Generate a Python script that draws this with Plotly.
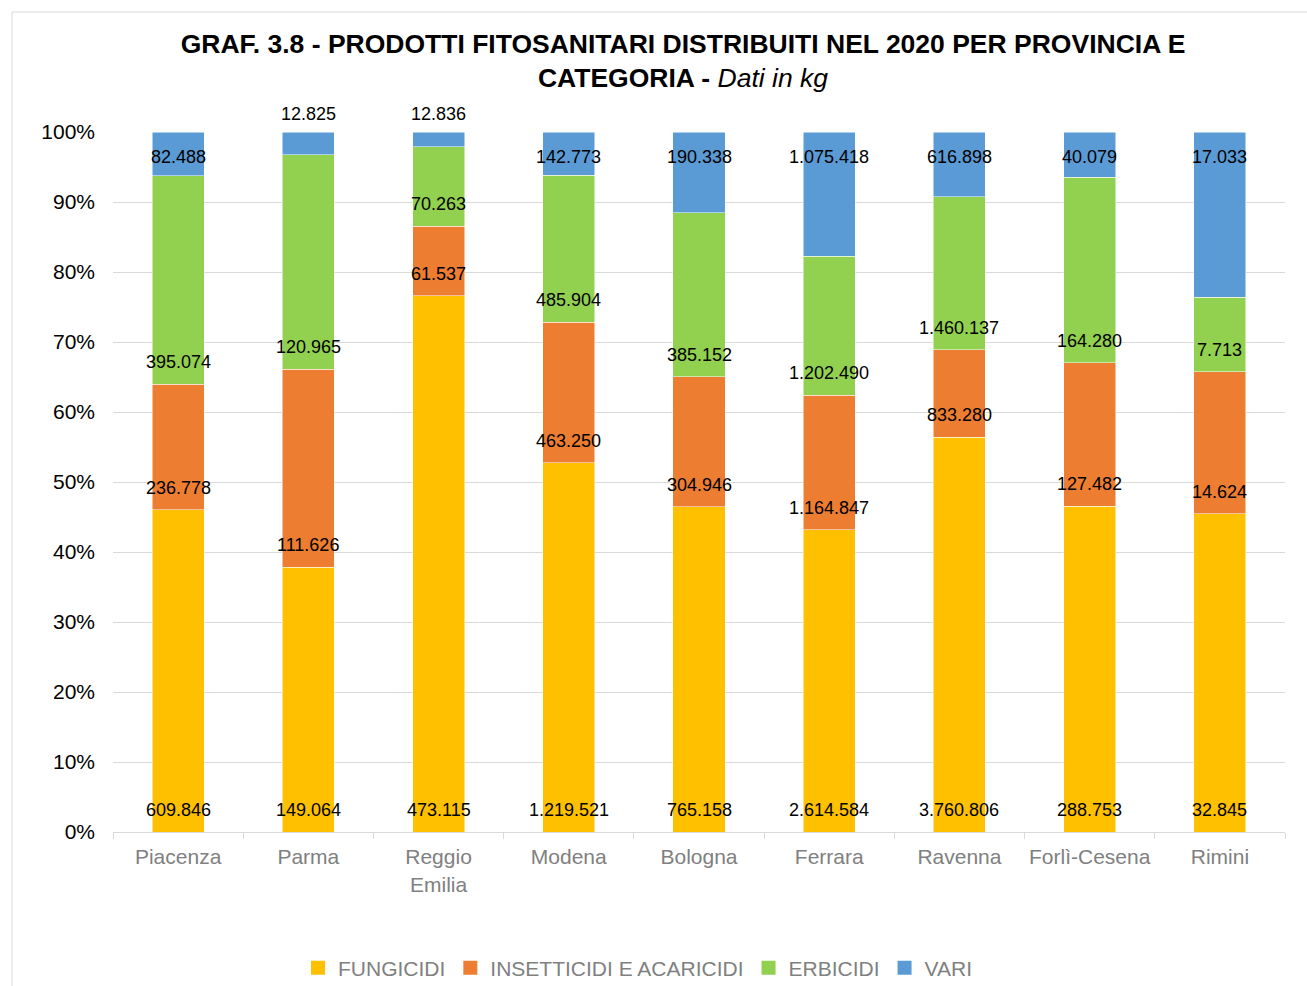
import numpy as np
import plotly.graph_objects as go

provinces = ["Piacenza", "Parma", "Reggio Emilia", "Modena", "Bologna",
             "Ferrara", "Ravenna", "Forlì-Cesena", "Rimini"]
fungicidi = [609846, 149064, 473115, 1219521, 765158, 2614584, 3760806, 288753, 32845]
insetticidi = [236778, 111626, 61537, 463250, 304946, 1164847, 833280, 127482, 14624]
erbicidi = [395074, 120965, 70263, 485904, 385152, 1202490, 1460137, 164280, 7713]
vari = [82488, 12825, 12836, 142773, 190338, 1075418, 616898, 40079, 17033]

series = [
    ("FUNGICIDI", fungicidi, "#FFC000"),
    ("INSETTICIDI E ACARICIDI", insetticidi, "#ED7D31"),
    ("ERBICIDI", erbicidi, "#92D050"),
    ("VARI", vari, "#5B9BD5"),
]

def fmt(v):
    return f"{v:,}".replace(",", ".")

W, H = 1307, 986
L, R, T, B = 113, 22, 132, 154
pw = W - L - R
ph = H - T - B
FONT = "Liberation Sans, Arial, sans-serif"

fig = go.Figure()
for name, vals, col in series:
    fig.add_trace(go.Bar(x=provinces, y=vals, name=name, legendgroup=name,
                         showlegend=False,
                         marker=dict(color=col, line=dict(color="white", width=0.5)),
                         hoverinfo="skip"))
for name, vals, col in series:
    fig.add_trace(go.Scatter(x=[None], y=[None], mode="markers", name=name,
                             legendgroup=name,
                             marker=dict(symbol="square", size=14, color=col)))

arr = np.array([s[1] for s in series], dtype=float)
tot = arr.sum(axis=0)
pct = arr / tot * 100
base = np.vstack([np.zeros(len(provinces)), np.cumsum(pct, axis=0)[:-1]])

annotations = []
label_font = dict(family=FONT, size=18, color="black")
for si, (name, vals, col) in enumerate(series):
    for j, p in enumerate(provinces):
        if si < 3:
            y, ys = base[si, j], 22
        else:
            if pct[si, j] < 4:
                y, ys = 100, 18
            else:
                y, ys = 100, -25
        annotations.append(dict(x=p, y=y, xref="x", yref="y", yshift=ys,
                                text=fmt(vals[j]), showarrow=False,
                                font=label_font, yanchor="middle"))

fig.update_layout(
    barmode="stack", barnorm="percent", bargap=0.6,
    width=W, height=H,
    margin=dict(l=L, r=R, t=T, b=B),
    paper_bgcolor="white", plot_bgcolor="white",
    title=dict(text="<b>GRAF. 3.8 - PRODOTTI FITOSANITARI DISTRIBUITI NEL 2020 PER PROVINCIA E<br>CATEGORIA - </b><i>Dati in kg</i>",
               x=(683 - L) / pw, xref="paper", xanchor="center",
               y=1 - 53 / H, yref="container", yanchor="middle",
               font=dict(family=FONT, size=26.5, color="black")),
    xaxis=dict(tickvals=provinces, ticktext=[p.replace(" ", "<br>") for p in provinces],
               tickfont=dict(family=FONT, size=21, color="#808080"), tickangle=0,
               showline=True, linecolor="#d9d9d9", linewidth=1,
               ticks="outside", tickson="boundaries", ticklen=6, tickcolor="#d9d9d9",
               showgrid=False, ticklabelstandoff=6),
    yaxis=dict(range=[0, 100], dtick=10, ticksuffix="%",
               tickfont=dict(family=FONT, size=21, color="black"),
               gridcolor="#d9d9d9", gridwidth=1, zeroline=False, showline=False,
               ticklabelstandoff=17),
    legend=dict(orientation="h", x=(638 - L) / pw, xanchor="center",
                y=1 - 968 / H, yref="container", yanchor="middle",
                font=dict(family=FONT, size=21, color="#808080"),
                traceorder="normal"),
    annotations=annotations,
    showlegend=True,
)

fig.add_shape(type="rect", xref="paper", yref="paper",
              x0=(12 - L) / pw, x1=(W + 5 - L) / pw,
              y0=-(B + 10) / ph, y1=(H - B - 12) / ph,
              line=dict(color="#d9d9d9", width=1), layer="below")

fig.write_html("out.html", config={"displayModeBar": False},
               post_script="document.body.style.margin='0';document.body.style.padding='0';")
